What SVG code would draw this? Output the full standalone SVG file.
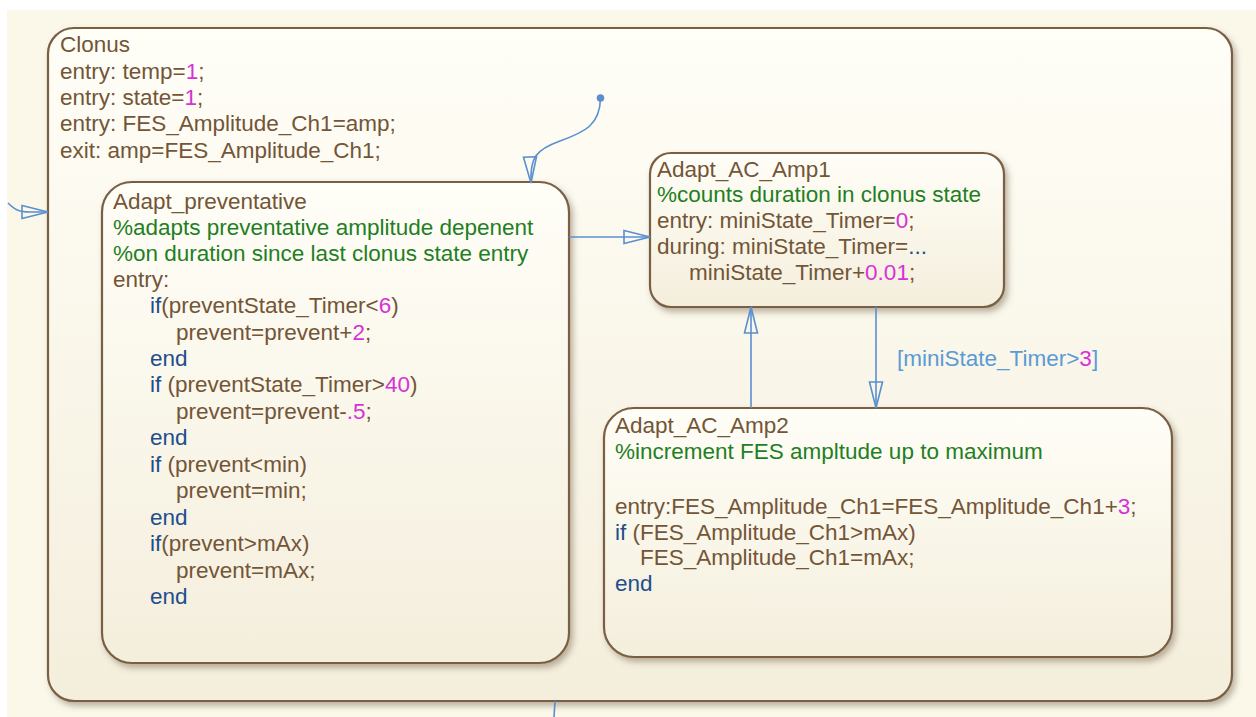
<svg xmlns="http://www.w3.org/2000/svg" width="1256" height="717" viewBox="0 0 1256 717">
  <defs>
    <linearGradient id="stateFill" x1="0" y1="0" x2="0" y2="1">
      <stop offset="0" stop-color="#fffef7"/>
      <stop offset="1" stop-color="#f4eedc"/>
    </linearGradient>
    <filter id="shadow" x="-5%" y="-5%" width="110%" height="115%">
      <feDropShadow dx="3" dy="4" stdDeviation="3" flood-color="#6b5a40" flood-opacity="0.45"/>
    </filter>
    <marker id="open" viewBox="0 0 28 16" refX="27" refY="8" markerWidth="28" markerHeight="16" markerUnits="userSpaceOnUse" orient="auto">
      <path d="M1,1.5 L27,8 L1,14.5 Z" fill="none" stroke="#5b8fd0" stroke-width="1.6" stroke-linejoin="miter"/>
    </marker>
  </defs>
  <style>
    .state { fill: url(#stateFill); stroke: #7a5f45; stroke-width: 2.2; filter: url(#shadow); }
    .t { font-family: "Liberation Sans", Arial, sans-serif; font-size: 22.5px; fill: #735537; }
    .c { fill: #1f7f24; }
    .k { fill: #1f4e8c; }
    .n { fill: #d632d6; }
    .lbl { font-family: "Liberation Sans", Arial, sans-serif; font-size: 22.5px; fill: #5b9bd5; }
    .wire { fill: none; stroke: #5b8fd0; stroke-width: 1.6; }
  </style>

  <!-- canvas -->
  <rect x="0" y="0" width="1256" height="717" fill="#ffffff"/>
  <rect x="7" y="10" width="1249" height="707" fill="#fbf8ea"/>

  <!-- parent state -->
  <g id="clonus">
    <rect class="state" x="48" y="28" width="1184" height="673" rx="26" ry="26"/>
    <text class="t" x="60" y="52">Clonus</text>
    <text class="t" x="60" y="79">entry: temp=<tspan class="n">1</tspan>;</text>
    <text class="t" x="60" y="105">entry: state=<tspan class="n">1</tspan>;</text>
    <text class="t" x="60" y="131">entry: FES_Amplitude_Ch1=amp;</text>
    <text class="t" x="60" y="158">exit: amp=FES_Amplitude_Ch1;</text>
  </g>

  <g id="adapt-preventative">
    <rect class="state" x="102" y="182" width="467" height="481" rx="30" ry="30"/>
    <text class="t" x="113" y="209">Adapt_preventative</text>
    <text class="t c" x="113" y="235">%adapts preventative amplitude depenent</text>
    <text class="t c" x="113" y="261">%on duration since last clonus state entry</text>
    <text class="t" x="113" y="287">entry:</text>
    <text class="t" x="150" y="313"><tspan class="k">if</tspan>(preventState_Timer&lt;<tspan class="n">6</tspan>)</text>
    <text class="t" x="176" y="340">prevent=prevent+<tspan class="n">2</tspan>;</text>
    <text class="t k" x="150" y="366">end</text>
    <text class="t" x="150" y="392"><tspan class="k">if</tspan> (preventState_Timer&gt;<tspan class="n">40</tspan>)</text>
    <text class="t" x="176" y="419">prevent=prevent-<tspan class="n">.5</tspan>;</text>
    <text class="t k" x="150" y="445">end</text>
    <text class="t" x="150" y="472"><tspan class="k">if</tspan> (prevent&lt;min)</text>
    <text class="t" x="176" y="498">prevent=min;</text>
    <text class="t k" x="150" y="525">end</text>
    <text class="t" x="150" y="551"><tspan class="k">if</tspan>(prevent&gt;mAx)</text>
    <text class="t" x="176" y="578">prevent=mAx;</text>
    <text class="t k" x="150" y="604">end</text>
  </g>

  <g id="adapt-ac-amp1">
    <rect class="state" x="650" y="153" width="354" height="154" rx="21" ry="21"/>
    <text class="t" x="657" y="177">Adapt_AC_Amp1</text>
    <text class="t c" x="657" y="202">%counts duration in clonus state</text>
    <text class="t" x="657" y="228">entry: miniState_Timer=<tspan class="n">0</tspan>;</text>
    <text class="t" x="657" y="254">during: miniState_Timer=<tspan class="k">...</tspan></text>
    <text class="t" x="689" y="280">miniState_Timer+<tspan class="n">0.01</tspan>;</text>
  </g>

  <g id="adapt-ac-amp2">
    <rect class="state" x="604" y="408" width="568" height="249" rx="30" ry="30"/>
    <text class="t" x="615" y="433">Adapt_AC_Amp2</text>
    <text class="t c" x="615" y="459">%increment FES ampltude up to maximum</text>
    <text class="t" x="615" y="514">entry:FES_Amplitude_Ch1=FES_Amplitude_Ch1+<tspan class="n">3</tspan>;</text>
    <text class="t" x="615" y="540"><tspan class="k">if</tspan> (FES_Amplitude_Ch1&gt;mAx)</text>
    <text class="t" x="640" y="565">FES_Amplitude_Ch1=mAx;</text>
    <text class="t k" x="615" y="591">end</text>
  </g>

  <!-- transitions -->
  <g id="connectors">
    <circle cx="600.5" cy="98" r="3.8" fill="#5b8fd0"/>
    <path class="wire" d="M600.5,98 C600,125 585,132 560,141 C535,150 530,158 531,183" marker-end="url(#open)"/>
    <path class="wire" d="M8,203 C14,209 18,212 30,212 L48,212" marker-end="url(#open)"/>
    <path class="wire" d="M569,237 L650,237" marker-end="url(#open)"/>
    <path class="wire" d="M751,408 L751,307" marker-end="url(#open)"/>
    <path class="wire" d="M876,307 L876,408" marker-end="url(#open)"/>
    <text class="lbl" x="897" y="366">[miniState_Timer&gt;<tspan class="n">3</tspan>]</text>
    <path class="wire" d="M555,701 L554,717"/>
  </g>
</svg>
